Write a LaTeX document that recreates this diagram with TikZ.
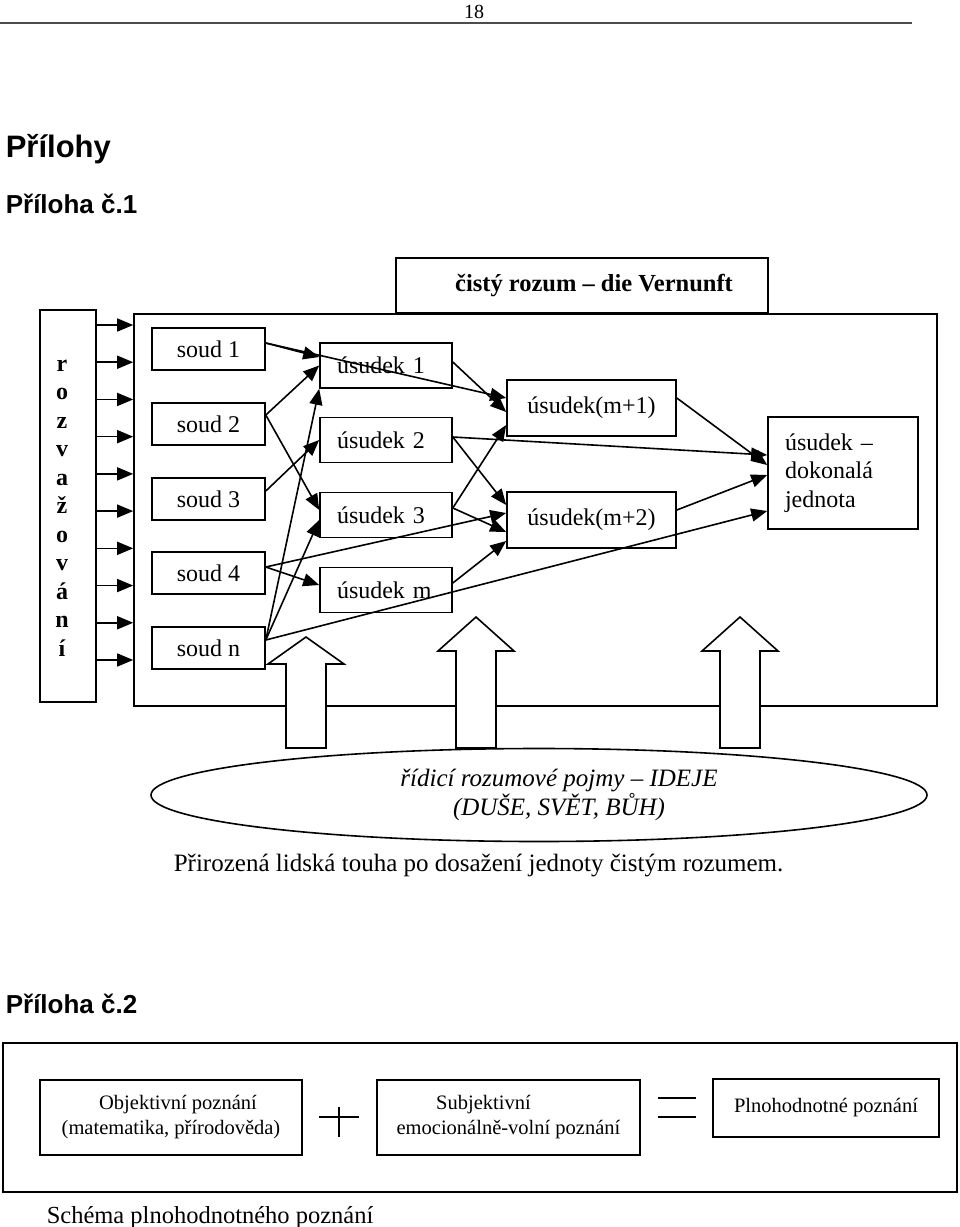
\documentclass[tikz,border=0pt]{standalone}
\usepackage{fontspec}
\setmainfont{Liberation Serif}
\setsansfont{Liberation Sans}
\usetikzlibrary{arrows.meta,shapes.geometric}

\begin{document}
\begin{tikzpicture}[x=1pt,y=-1pt,line width=1.6pt,
        every node/.style={font=\fontsize{24}{28.5}\selectfont},
        box/.style={draw,rectangle,inner sep=0pt},
        ubox/.style={box,minimum width=132,minimum height=45,text width=98,inner xsep=17,align=left},
        mbox/.style={box,minimum width=169,minimum height=56},
        arr/.style={-{Triangle[length=16pt,width=13pt]}},
        small/.style={font=\fontsize{20.5}{25}\selectfont},
        head/.style={anchor=base west,inner sep=0pt}]
        \useasboundingbox (0,0) rectangle (960,1227);
        \node[font=\fontsize{20}{24}\selectfont] (page) at (474,12) {18};
        \draw[line width=2.2pt, black!70] (0,23) -- (912,23);
        \node[head, font=\sffamily\bfseries\fontsize{31}{36}\selectfont] (prilohy) at (5,157) {Přílohy};
        \node[head, font=\sffamily\bfseries\fontsize{26}{30}\selectfont] (pril1) at (5,213) {Příloha č.1};
        \node[box, minimum width=372, minimum height=55] (vern) at (582,285.5) {};
        \node[font=\bfseries\fontsize{24.5}{28}\selectfont] (vernt) at ([xshift=12pt]vern.center) {čistý rozum – die Vernunft};
        \node[box, minimum width=803, minimum height=392] (rozum) at (535.5,510) {};
        \node[box, minimum width=56, minimum height=392] (roz) at (68,506) {};
        \node[align=center, inner sep=0pt, font=\bfseries\fontsize{24}{28.5}\selectfont] (rozt) at (62,508) {r\\o\\z\\v\\a\\ž\\o\\v\\á\\n\\í};
        \foreach \i [evaluate=\i as \y using 325+37.22*\i] in {0,...,9}
            \draw[arr] (roz.east |- 0,\y) -- (rozum.west |- 0,\y);
        \foreach \n/\t/\y in {s1/1/349, s2/2/424, s3/3/499, s4/4/573, sn/n/648}
            \node[box, minimum width=113, minimum height=42] (\n) at (208.5,\y) {soud \t};
        \foreach \n/\t/\y in {u1/1/365.5, u2/2/440, u3/3/515, um/m/590}
            \node[ubox] (\n) at (386,\y) {úsudek \t};
        \node[mbox] (m1) at (591.5,408) {úsudek(m+1)};
        \node[mbox] (m2) at (591.5,520) {úsudek(m+2)};
        \node[box, minimum width=150, minimum height=112, text width=116, inner xsep=17, align=left] (jed) at (843,473) {úsudek –\\dokonalá\\jednota};
        \draw[arr] ([yshift=6pt]s1.east) -- ([yshift=8.5pt]u1.west);
        \draw[arr] ([yshift=6pt]s1.east) -- ([yshift=10pt]m1.west);
        \draw[arr] ([yshift=9pt]s2.east) -- (u1.west);
        \draw[arr] ([yshift=9pt]s2.east) -- ([yshift=5pt]u3.west);
        \draw[arr] ([yshift=8pt]s3.east) -- (u2.west);
        \draw[arr] ([yshift=6pt]s4.east) -- ([yshift=5pt]um.west);
        \draw[arr] ([yshift=6pt]s4.east) -- ([yshift=7pt]m2.west);
        \draw[arr] ([yshift=8pt]sn.east) -- (u1.south west);
        \draw[arr] ([yshift=8pt]sn.east) -- ([yshift=-5pt]u3.west);
        \draw[arr] ([yshift=8pt]sn.east) -- ([yshift=-38pt]jed.west);
        \draw[arr] ([yshift=3.5pt]u1.east) -- ([yshift=-4pt]m1.west);
        \draw[arr] ([yshift=7pt]u3.east) -- ([yshift=-17pt]m1.west);
        \draw[arr] ([yshift=3pt]u2.east) -- ([yshift=15pt]m2.west);
        \draw[arr] ([yshift=3pt]u2.east) -- ([yshift=18pt]jed.west);
        \draw[arr] ([yshift=7pt]u3.east) -- ([yshift=-12pt]m2.west);
        \draw[arr] ([yshift=7pt]um.east) -- ([yshift=-21pt]m2.west);
        \draw[arr] ([yshift=10pt]m1.east) -- ([yshift=8pt]jed.west);
        \draw[arr] ([yshift=10pt]m2.east) -- ([yshift=-2pt]jed.west);
        \foreach \x/\t/\b in {306/637/664, 476/617/651, 740/617/651}
            \draw[fill=white] (\x-20,748) -- (\x-20,\b) -- (\x-38,\b) -- (\x,\t) -- (\x+38,\b) -- (\x+20,\b) -- (\x+20,748) -- cycle;
        \node[draw, ellipse, minimum width=776, minimum height=93, inner sep=0pt] (ideje) at (539,795) {};
        \node[align=center, inner sep=0pt, font=\itshape\fontsize{25}{27}\selectfont] (idejet) at (559,795) {řídicí rozumové pojmy – IDEJE\\(DUŠE, SVĚT, BŮH)};
        \node[anchor=west, inner sep=0pt, font=\fontsize{25}{30}\selectfont] (touha) at (173,865) {Přirozená lidská touha po dosažení jednoty čistým rozumem.};
        \node[head, font=\sffamily\bfseries\fontsize{26}{30}\selectfont] (pril2) at (5,1013) {Příloha č.2};
        \node[box, minimum width=954, minimum height=149] (schema) at (480,1117.5) {};
        \node[box, small, minimum width=262, minimum height=75, align=center] (obj) at (171,1117.5) {\hspace*{14pt}Objektivní poznání\\(matematika, přírodověda)};
        \node[box, small, minimum width=263, minimum height=75, align=center] (subj) at (508.5,1117.5) {Subjektivní\hspace*{50pt}\\emocionálně-volní poznání};
        \node[box, small, minimum width=226, minimum height=58] (plno) at (826,1108) {Plnohodnotné poznání};
        \draw[line width=1.2pt] (339,1107) -- (339,1137) (319,1117) -- (359,1117);
        \draw[line width=1.2pt] (658,1098) -- (696,1098) (658,1117) -- (696,1117);
        \node[anchor=west, inner sep=0pt, font=\fontsize{24.5}{28}\selectfont] (capt) at (46,1218) {Schéma plnohodnotného poznání};
    \end{tikzpicture}
\end{document}
